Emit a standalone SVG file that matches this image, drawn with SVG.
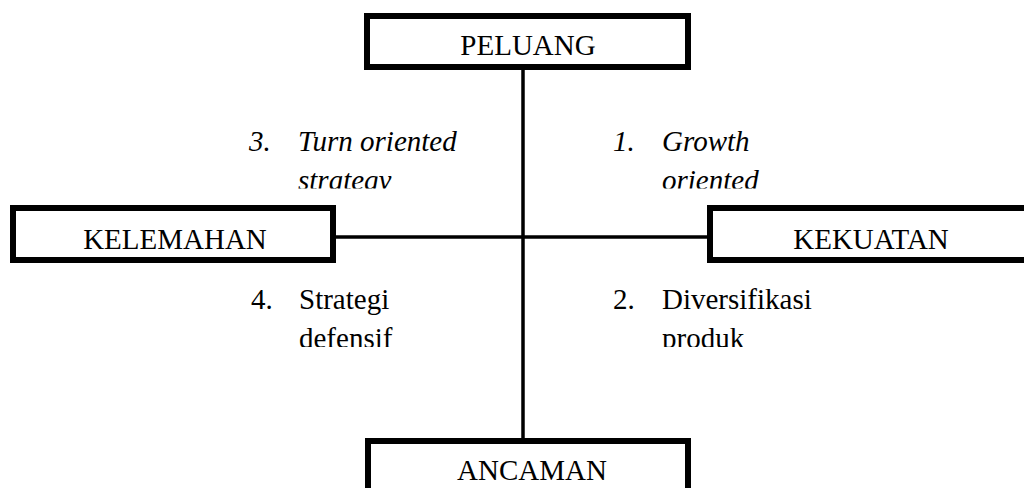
<svg xmlns="http://www.w3.org/2000/svg" width="1024" height="488" viewBox="0 0 1024 488">
<style>
.box{fill:#fff;stroke:#000;stroke-width:6}
.lbl{font-family:"Liberation Serif","Times New Roman",serif;font-size:29px;fill:#000;text-anchor:middle}
.q{font-family:"Liberation Serif","Times New Roman",serif;font-size:29px;fill:#000}
.it{font-style:italic}
.conn{stroke:#000;stroke-width:3.5;fill:none}
</style>
<defs>
<clipPath id="clipTop"><rect x="0" y="100" width="1024" height="88.5"/></clipPath>
<clipPath id="clipBot"><rect x="0" y="270" width="1024" height="77"/></clipPath>
</defs>
<rect width="1024" height="488" fill="#fff"/>
<g id="connectors">
<line class="conn" x1="523" y1="70" x2="523" y2="438"/>
<line class="conn" x1="336" y1="237" x2="707" y2="237"/>
</g>
<g id="peluang">
<rect class="box" x="367" y="16" width="321" height="51"/>
<text class="lbl" x="528" y="55">PELUANG</text>
</g>
<g id="kelemahan">
<rect class="box" x="13" y="208" width="320" height="52"/>
<text class="lbl" x="175" y="249">KELEMAHAN</text>
</g>
<g id="kekuatan">
<rect class="box" x="710" y="208" width="320" height="52"/>
<text class="lbl" x="871" y="249">KEKUATAN</text>
</g>
<g id="ancaman">
<rect class="box" x="368" y="441" width="320" height="52"/>
<text class="lbl" x="532" y="480">ANCAMAN</text>
</g>
<g id="q3" clip-path="url(#clipTop)">
<text class="q it" x="249" y="151">3.</text>
<text class="q it" x="298" y="151">Turn oriented</text>
<text class="q it" x="298" y="190">strategy</text>
</g>
<g id="q1" clip-path="url(#clipTop)">
<text class="q it" x="613" y="151">1.</text>
<text class="q it" x="662" y="151">Growth</text>
<text class="q it" x="662" y="190">oriented</text>
</g>
<g id="q4" clip-path="url(#clipBot)">
<text class="q" x="251" y="309">4.</text>
<text class="q" x="299" y="309">Strategi</text>
<text class="q" x="299" y="348">defensif</text>
</g>
<g id="q2" clip-path="url(#clipBot)">
<text class="q" x="613" y="309">2.</text>
<text class="q" x="662" y="309">Diversifikasi</text>
<text class="q" x="662" y="348">produk</text>
</g>
</svg>
